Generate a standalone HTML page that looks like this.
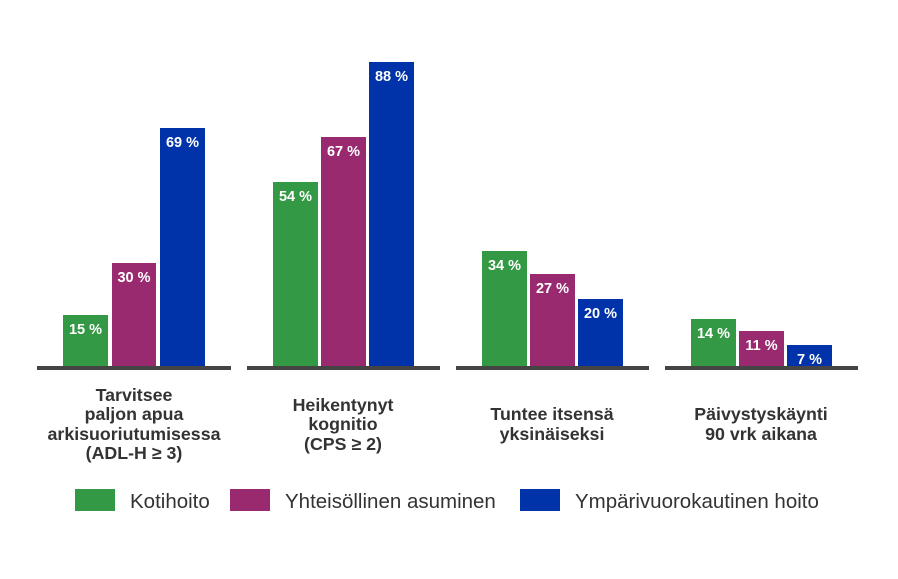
<!DOCTYPE html><html><head><style>
body{margin:0;background:#fff;width:898px;height:574px;overflow:hidden}
svg text{font-family:"Liberation Sans",Arial,sans-serif}
</style></head><body>
<svg width="898" height="574" xmlns="http://www.w3.org/2000/svg">
<g fill="#339944"><rect x="63" y="315" width="45" height="51"/><rect x="273" y="182" width="45" height="184"/><rect x="482" y="251" width="45" height="115"/><rect x="691" y="319" width="45" height="47"/></g>
<g fill="#992a70"><rect x="112" y="263" width="44" height="103"/><rect x="321" y="137" width="45" height="229"/><rect x="530" y="274" width="45" height="92"/><rect x="739" y="331" width="45" height="35"/></g>
<g fill="#0033aa"><rect x="160" y="128" width="45" height="238"/><rect x="369" y="62" width="45" height="304"/><rect x="578" y="299" width="45" height="67"/><rect x="787" y="345" width="45" height="21"/></g>
<g fill="#444"><rect x="37" y="366" width="194" height="4"/><rect x="247" y="366" width="193" height="4"/><rect x="456" y="366" width="193" height="4"/><rect x="665" y="366" width="193" height="4"/></g>
<g fill="#fff" font-weight="bold" font-size="14.5" text-anchor="middle">
<text x="85.5" y="334">15 %</text><text x="134" y="282">30 %</text><text x="182.5" y="147">69 %</text>
<text x="295.5" y="201">54 %</text><text x="343.5" y="156">67 %</text><text x="391.5" y="81">88 %</text>
<text x="504.5" y="270">34 %</text><text x="552.5" y="293">27 %</text><text x="600.5" y="318">20 %</text>
<text x="713.5" y="338">14 %</text><text x="761.5" y="350">11 %</text><text x="809.5" y="364">7 %</text>
</g>
<g fill="#333" font-weight="bold" font-size="17.8" text-anchor="middle">
<text x="134" y="401">Tarvitsee</text><text x="134" y="420">paljon apua</text><text x="134" y="440">arkisuoriutumisessa</text><text x="134" y="459">(ADL-H ≥ 3)</text>
<text x="343" y="411">Heikentynyt</text><text x="343" y="430">kognitio</text><text x="343" y="450">(CPS ≥ 2)</text>
<text x="552" y="420">Tuntee itsensä</text><text x="552" y="440">yksinäiseksi</text>
<text x="761" y="420">Päivystyskäynti</text><text x="761" y="440">90 vrk aikana</text>
</g>
<rect x="75" y="489" width="40" height="22" fill="#339944"/><rect x="230" y="489" width="40" height="22" fill="#992a70"/><rect x="520" y="489" width="40" height="22" fill="#0033aa"/>
<g fill="#333" font-size="20.5"><text x="130" y="508">Kotihoito</text><text x="285" y="508">Yhteisöllinen asuminen</text><text x="575" y="508">Ympärivuorokautinen hoito</text></g>
</svg>
</body></html>
